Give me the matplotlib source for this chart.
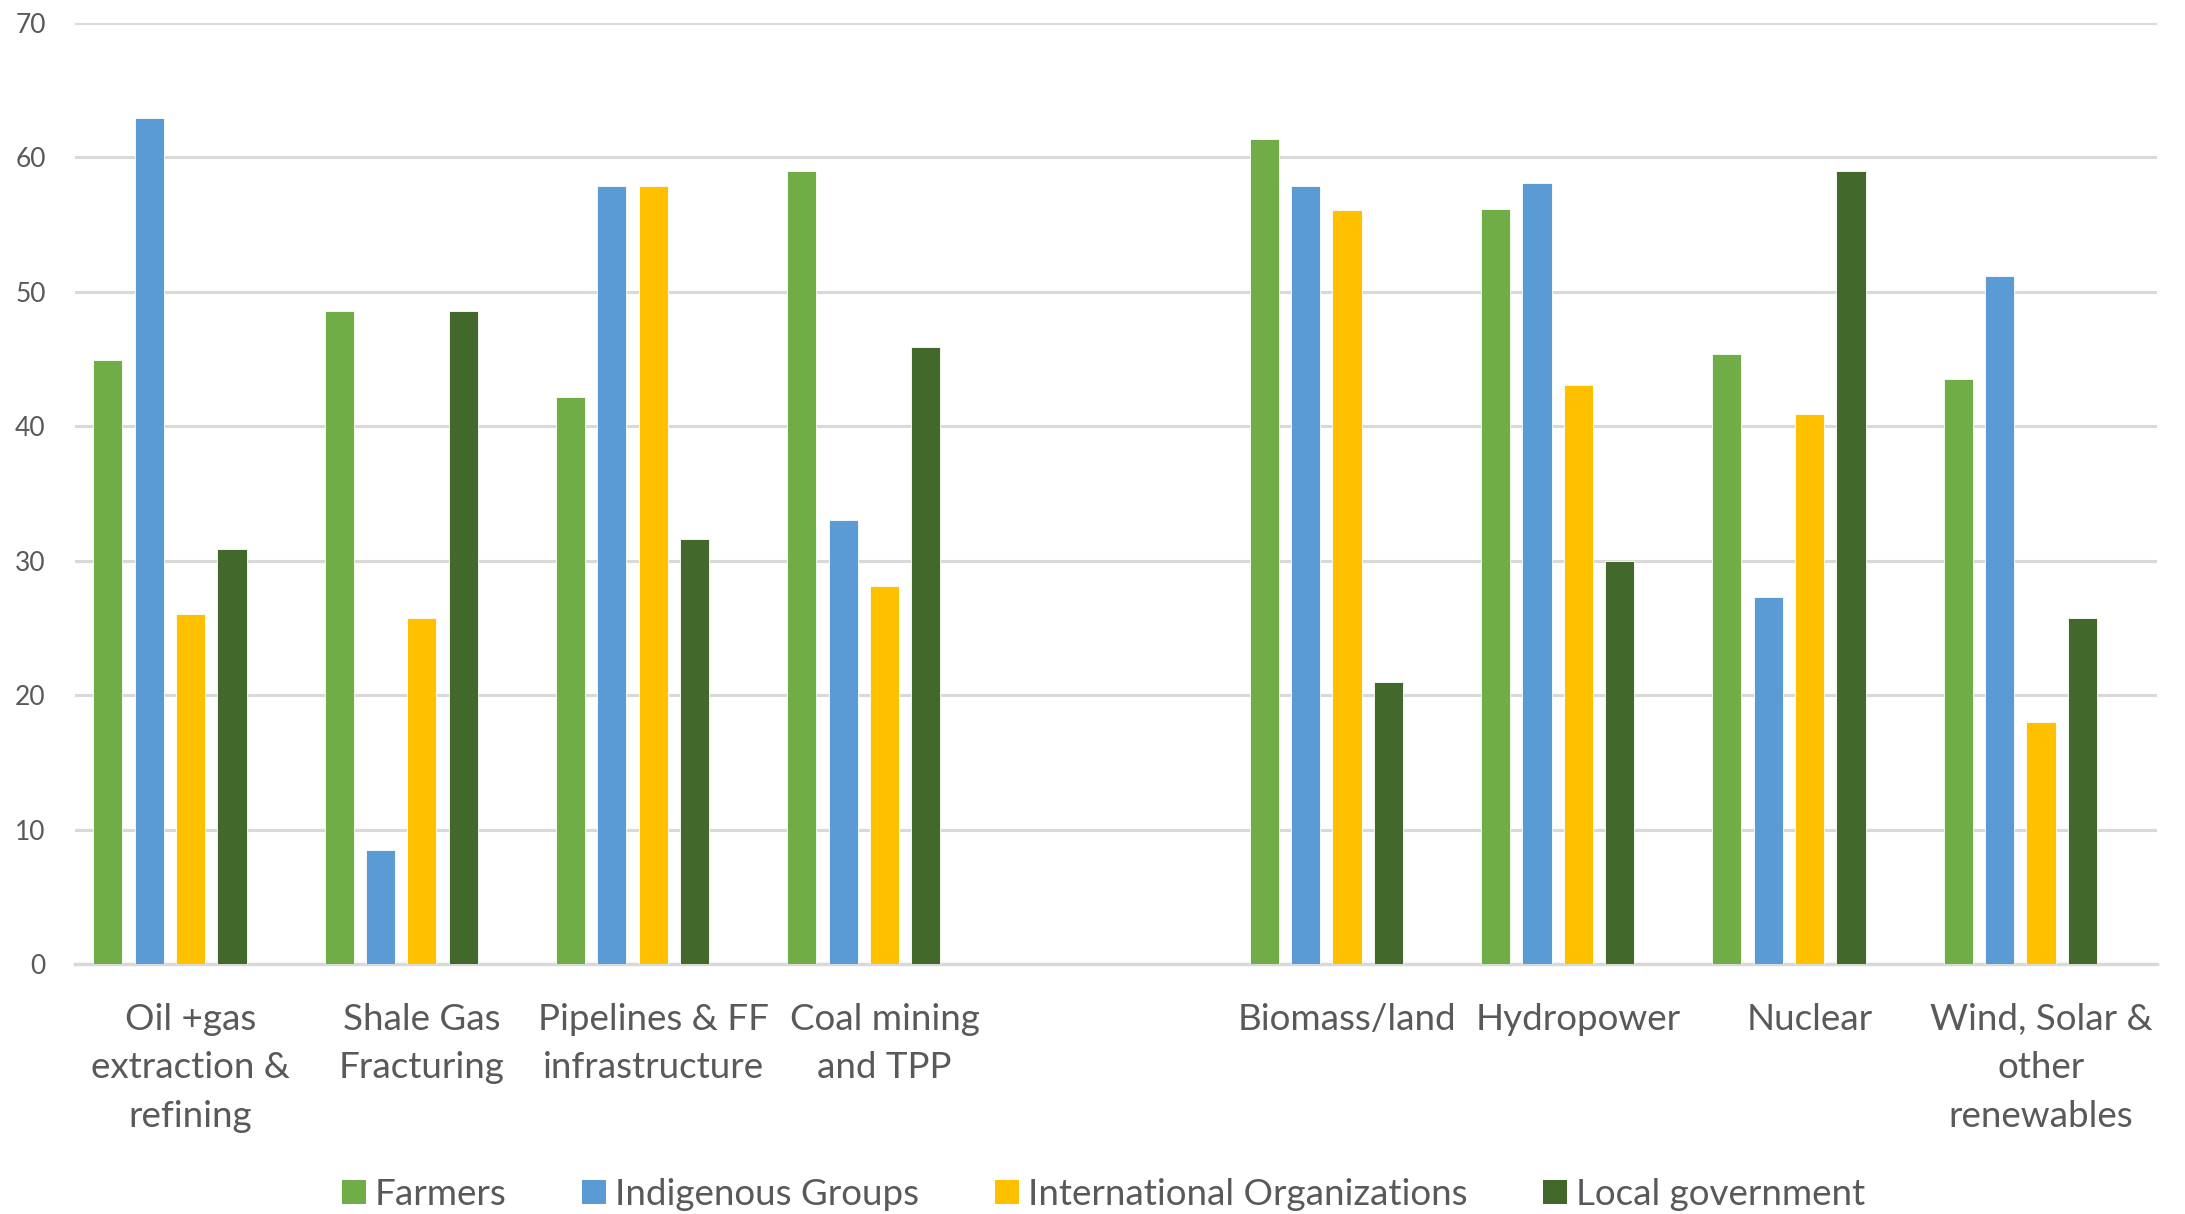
import numpy as np
import matplotlib.pyplot as plt
from matplotlib.patches import Patch

# ------------------------------
# Data
# ------------------------------

# the empty "" slot is the blank gap between fossil and low-carbon sources
categories = [
    "Oil +gas\nextraction &\nrefining", "Shale Gas\nFracturing",
    "Pipelines & FF\ninfrastructure", "Coal mining\nand TPP", "",
    "Biomass/land", "Hydropower", "Nuclear", "Wind, Solar &\nother\nrenewables",
]

farmers       = [44.9, 48.6, 42.2, 59.0, np.nan, 61.4, 56.2, 45.4, 43.5]
indigenous    = [62.9,  8.5, 57.9, 33.0, np.nan, 57.9, 58.1, 27.3, 51.2]
international = [26.0, 25.7, 57.9, 28.1, np.nan, 56.1, 43.1, 40.9, 18.0]
local_gov     = [30.9, 48.6, 31.6, 45.9, np.nan, 21.0, 30.0, 59.0, 25.7]

series_names = ["Farmers", "Indigenous Groups", "International Organizations", "Local government"]
series_values = [farmers, indigenous, international, local_gov]
colors = ["#70AD47", "#5B9BD5", "#FFC000", "#43682B"]

y_ticks = [0, 10, 20, 30, 40, 50, 60, 70]

# ------------------------------
# Figure
# ------------------------------

plt.rcParams["font.family"] = ["Lato", "DejaVu Sans"]
text_color = "#595959"
grid_color = "#D9D9D9"

fig = plt.figure(figsize=(21.85, 12.14), dpi=100)
ax = fig.add_axes([0.0343, 0.206, 0.9527, 0.775])

x = np.arange(len(categories))
pitch = 0.179
width = 0.126
# the original chart reserves a fifth (empty) slot per group, so bars sit left of centre
for i, (name, vals, col) in enumerate(zip(series_names, series_values, colors)):
    offset = (i - 2) * pitch
    ax.bar(x + offset, vals, width=width, color=col, edgecolor="white",
           linewidth=0.6, zorder=3, label=name)

ax.set_xlim(-0.5, len(categories) - 0.5)
ax.set_ylim(0, 70)
ax.set_yticks(y_ticks)
ax.set_xticks(x)
ax.set_xticklabels(categories, fontsize=26.5, color=text_color, linespacing=1.57)

ax.tick_params(axis="y", length=0, pad=21, labelsize=19, labelcolor=text_color)
ax.tick_params(axis="x", length=0, pad=28)

ax.grid(axis="y", color=grid_color, linewidth=2.2, zorder=0)
for side in ["top", "right", "left"]:
    ax.spines[side].set_visible(False)
ax.spines["bottom"].set_color(grid_color)
ax.spines["bottom"].set_linewidth(2.5)

handles = [Patch(facecolor=c, edgecolor="none") for c in colors]
fig.legend(handles, series_names, loc="center", bbox_to_anchor=(0.505, 0.016),
           ncol=4, frameon=False, fontsize=26.5, labelcolor=text_color,
           handlelength=0.65, handleheight=0.65, handletextpad=0.25, columnspacing=2.05)

fig.savefig("out.png", dpi=100)
